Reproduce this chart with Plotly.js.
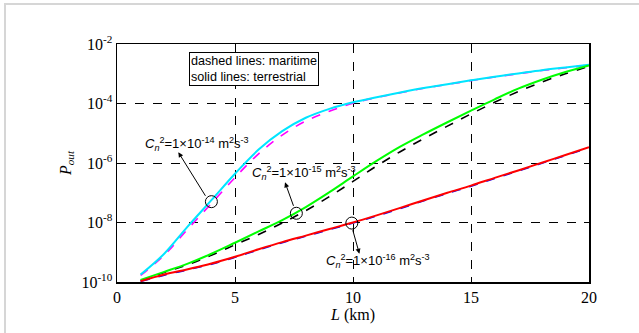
<!DOCTYPE html>
<html>
<head>
<meta charset="utf-8">
<script src="https://cdn.plot.ly/plotly-3.0.1.min.js"></script>
<style>
html,body{margin:0;padding:0;background:#fff;}
#frame{position:absolute;left:4px;top:3px;width:640px;height:335px;border-top:2px solid #d6d6d6;border-left:2px solid #d6d6d6;}
#chart{position:absolute;left:0;top:0;width:639px;height:333px;}
</style>
</head>
<body>
<div id="frame"></div>
<div id="chart"></div>
<script>
// L (km)
var L = [1,2,3,4,5,6,7,8,9,10,11,12,13,14,15,16,17,18,19,20];
// log10(P_out)
var terr14 = [-9.75,-9.05,-8.13,-7.25,-6.36,-5.55,-4.93,-4.48,-4.18,-3.96,-3.79,-3.63,-3.48,-3.35,-3.22,-3.1,-2.99,-2.88,-2.79,-2.70];
var mari14 = [-9.78,-9.1,-8.22,-7.36,-6.49,-5.69,-5.06,-4.59,-4.26,-3.99,-3.8,-3.64,-3.49,-3.36,-3.23,-3.11,-3.0,-2.89,-2.8,-2.71];
var terr15 = [-9.93,-9.66,-9.38,-9.05,-8.68,-8.3,-7.92,-7.48,-6.98,-6.45,-5.93,-5.45,-5.03,-4.63,-4.24,-3.86,-3.5,-3.2,-2.94,-2.72];
var mari15 = [-9.95,-9.68,-9.42,-9.1,-8.75,-8.4,-8.02,-7.6,-7.13,-6.62,-6.1,-5.62,-5.18,-4.76,-4.35,-3.96,-3.6,-3.28,-3.0,-2.75];
var terr16 = [-9.97,-9.75,-9.57,-9.38,-9.15,-8.9,-8.66,-8.44,-8.22,-8.0,-7.76,-7.51,-7.25,-7.0,-6.76,-6.5,-6.25,-5.99,-5.73,-5.47];
var mari16 = [-9.98,-9.77,-9.59,-9.4,-9.17,-8.92,-8.68,-8.46,-8.24,-8.02,-7.78,-7.53,-7.27,-7.02,-6.78,-6.52,-6.27,-6.01,-5.75,-5.49];
// circled points [L, log10 P]
var circL = [4.0, 7.6, 9.95];
var circP = [-7.3, -7.69, -8.02];
// tick labels
var xTicks = [0,5,10,15,20];
var yTickExp = [-10,-8,-6,-4,-2];
var yTickText = ['10<sup>-10</sup>','10<sup>-8</sup>','10<sup>-6</sup>','10<sup>-4</sup>','10<sup>-2</sup>'];
var labels = ['1\u00d710<sup>-14</sup>','1\u00d710<sup>-15</sup>','1\u00d710<sup>-16</sup>'];

function pw(a){return a.map(function(v){return Math.pow(10,v);});}

// minor tick marks of the log axis (2..9 per decade, plus odd decades), drawn as short shapes
// (shape positions on a log axis are given in log10 units)
var shapes = [];
for (var e = -10; e < -2; e++) {
  for (var m = 1; m < 10; m++) {
    if (m === 1 && e % 2 === 0) continue;
    var lv = e + Math.log10(m);
    var len = (m === 1) ? 5 : 3;
    shapes.push({type:'line',xref:'paper',yref:'y',xsizemode:'pixel',xanchor:0,x0:0,x1:len,y0:lv,y1:lv,line:{color:'#000',width:1},layer:'above'});
    shapes.push({type:'line',xref:'paper',yref:'y',xsizemode:'pixel',xanchor:1,x0:-len,x1:0,y0:lv,y1:lv,line:{color:'#000',width:1},layer:'above'});
  }
}

var traces = [
  {x:L,y:pw(mari14),mode:'lines',line:{color:'#ff00ff',width:1.6,dash:'dash',shape:'spline'}},
  {x:L,y:pw(mari15),mode:'lines',line:{color:'#000000',width:1.6,dash:'dash',shape:'spline'}},
  {x:L,y:pw(mari16),mode:'lines',line:{color:'#0000ff',width:1.6,dash:'dash',shape:'spline'}},
  {x:L,y:pw(terr14),mode:'lines',line:{color:'#00e5ff',width:2,shape:'spline'}},
  {x:L,y:pw(terr15),mode:'lines',line:{color:'#00ff00',width:2,shape:'spline'}},
  {x:L,y:pw(terr16),mode:'lines',line:{color:'#ff0000',width:2,shape:'spline'}},
  {x:circL,y:pw(circP),mode:'markers',marker:{symbol:'circle-open',size:12,color:'#000',line:{width:1}}}
];

var tf = {family:'Liberation Sans, Arial, sans-serif',size:13,color:'#000'};
function cn(i){return '<i>C</i><sub><i>n</i></sub><sup>2</sup>=' + labels[i] + ' m<sup>2</sup>s<sup>-3</sup>';}

var annotations = [
  {x:1.1,y:-5.36,xref:'x',yref:'y',text:cn(0),showarrow:false,xanchor:'left',yanchor:'middle',font:tf},
  {x:5.62,y:-6.33,xref:'x',yref:'y',text:cn(1),showarrow:false,xanchor:'left',yanchor:'middle',font:tf},
  {x:8.75,y:-9.28,xref:'x',yref:'y',text:cn(2),showarrow:false,xanchor:'left',yanchor:'middle',font:tf},
  {x:2.6,y:-5.64,xref:'x',yref:'y',text:'',showarrow:true,arrowhead:2,arrowsize:1,arrowwidth:1,arrowcolor:'#000',ax:28,ay:45},
  {x:7.12,y:-6.65,xref:'x',yref:'y',text:'',showarrow:true,arrowhead:2,arrowsize:1,arrowwidth:1,arrowcolor:'#000',ax:9,ay:25},
  {x:10.27,y:-9.05,xref:'x',yref:'y',text:'',showarrow:true,arrowhead:2,arrowsize:1,arrowwidth:1,arrowcolor:'#000',ax:-7,ay:-25},
  {x:3.05,y:-2.85,xref:'x',yref:'y',text:'dashed lines: maritime<br>solid lines: terrestrial',showarrow:false,xanchor:'left',yanchor:'middle',align:'left',
   font:{family:'Liberation Sans, Arial, sans-serif',size:12.6,color:'#000'},bordercolor:'#000',borderwidth:1,borderpad:1,bgcolor:'#fff'}
];

var serif = {family:'Liberation Serif, Times New Roman, serif',size:16,color:'#000'};

var layout = {
  width:639,height:333,
  margin:{l:117,r:50,t:44,b:51},
  paper_bgcolor:'rgba(0,0,0,0)',plot_bgcolor:'#fff',
  showlegend:false,
  xaxis:{range:[0,20],tickvals:xTicks,ticks:'inside',ticklen:5,tickcolor:'#000',mirror:'ticks',showline:true,linecolor:'#000',linewidth:1.5,
    showgrid:true,gridcolor:'#000',griddash:'dash',gridwidth:1,zeroline:false,tickfont:serif,
    title:{text:'<i>L</i> (km)',font:serif,standoff:4}},
  yaxis:{type:'log',range:[-10,-2],tickvals:pw(yTickExp),ticktext:yTickText,ticks:'inside',ticklen:5,tickcolor:'#000',mirror:'ticks',showline:true,linecolor:'#000',linewidth:1.5,
    showgrid:true,gridcolor:'#000',griddash:'dash',gridwidth:1,zeroline:false,tickfont:serif,
    title:{text:'<i>P</i><sub><i>out</i></sub>',font:serif,standoff:6}},
  shapes:shapes,
  annotations:annotations
};

Plotly.newPlot('chart',traces,layout,{displayModeBar:false,staticPlot:true});
</script>
</body>
</html>
